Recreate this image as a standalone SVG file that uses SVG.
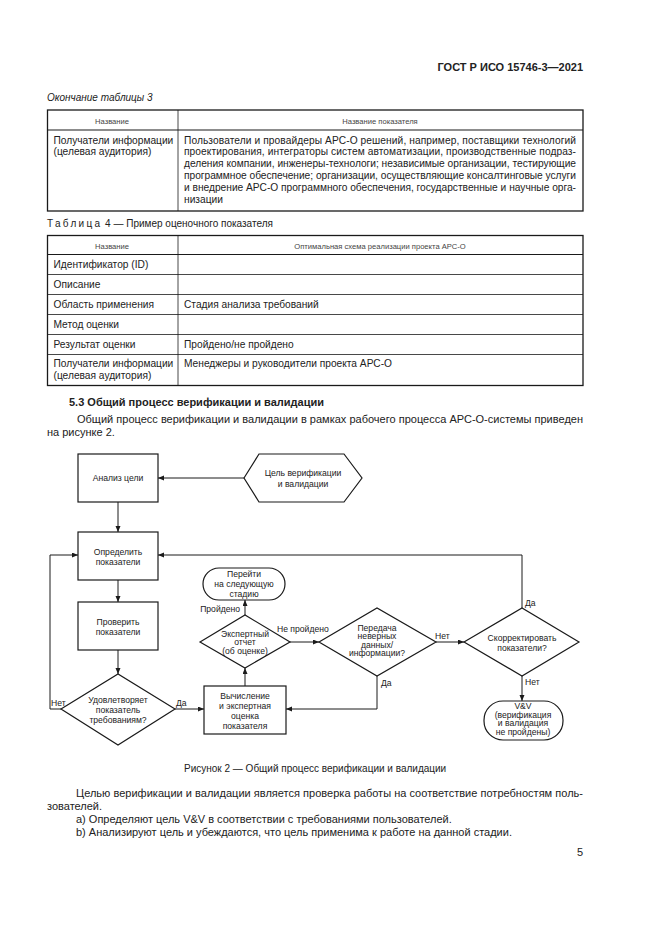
<svg xmlns="http://www.w3.org/2000/svg" width="661" height="935" viewBox="0 0 661 935">
<style>
text{font-family:"Liberation Sans",Arial,sans-serif;fill:#222}
.body{font-size:11px}
.tb{font-size:10.2px}
.th{font-size:7.6px;fill:#444}
.fc{font-size:8.6px;text-anchor:middle}
.lbl{font-size:8.6px}
.shape{fill:#fff;stroke:#1a1a1a;stroke-width:1.2}
.conn{fill:none;stroke:#1a1a1a;stroke-width:1}
.outer{fill:none;stroke:#1a1a1a;stroke-width:1.3}
.inner{stroke:#1a1a1a;stroke-width:0.8}
</style>
<defs>
<marker id="arr" markerUnits="userSpaceOnUse" markerWidth="7" markerHeight="6" refX="6" refY="2.5" orient="auto">
<path d="M0,0 L6,2.5 L0,5 z" fill="#1a1a1a"/>
</marker>
</defs>
<rect width="661" height="935" fill="#fff"/>

<!-- Header -->
<text x="583" y="71" text-anchor="end" style="font-size:11px;font-weight:bold">ГОСТ Р ИСО 15746-3—2021</text>
<text x="47" y="101" style="font-size:10px;font-style:italic">Окончание таблицы 3</text>

<!-- Table 3 -->
<g id="table3">
<rect class="outer" x="47.5" y="110" width="535.5" height="101"/>
<line class="inner" x1="47.5" y1="130" x2="583" y2="130" style="stroke-width:1.2"/>
<line class="inner" x1="178" y1="110" x2="178" y2="211"/>
<text class="th" x="112" y="123.5" text-anchor="middle">Название</text>
<text class="th" x="380" y="123.5" text-anchor="middle">Название показателя</text>
<text class="tb" x="53.5" y="143.5">Получатели информации</text>
<text class="tb" x="53.5" y="155.3">(целевая аудитория)</text>
<text class="tb" x="184" y="143.5" textLength="392" lengthAdjust="spacing">Пользователи и провайдеры АРС-О решений, например, поставщики технологий</text>
<text class="tb" x="184" y="155.3" textLength="392" lengthAdjust="spacing">проектирования, интеграторы систем автоматизации, производственные подраз-</text>
<text class="tb" x="184" y="167.1" textLength="392" lengthAdjust="spacing">деления компании, инженеры-технологи; независимые организации, тестирующие</text>
<text class="tb" x="184" y="178.9" textLength="392" lengthAdjust="spacing">программное обеспечение; организации, осуществляющие консалтинговые услуги</text>
<text class="tb" x="184" y="190.7" textLength="392" lengthAdjust="spacing">и внедрение АРС-О программного обеспечения, государственные и научные орга-</text>
<text class="tb" x="184" y="202.5">низации</text>
</g>

<!-- Table 4 -->
<text x="47" y="227" style="font-size:10px"><tspan letter-spacing="2.3">Таблица</tspan> 4 — Пример оценочного показателя</text>
<g id="table4">
<rect class="outer" x="47.5" y="235.5" width="535.5" height="150"/>
<line class="inner" x1="47.5" y1="254.5" x2="583" y2="254.5" style="stroke-width:1.2"/>
<line class="inner" x1="47.5" y1="274.5" x2="583" y2="274.5"/>
<line class="inner" x1="47.5" y1="294.5" x2="583" y2="294.5"/>
<line class="inner" x1="47.5" y1="314.5" x2="583" y2="314.5"/>
<line class="inner" x1="47.5" y1="334.5" x2="583" y2="334.5"/>
<line class="inner" x1="47.5" y1="354.5" x2="583" y2="354.5"/>
<line class="inner" x1="178" y1="235.5" x2="178" y2="385.5"/>
<text class="th" x="112" y="248.5" text-anchor="middle">Название</text>
<text class="th" x="380" y="248.5" text-anchor="middle">Оптимальная схема реализации проекта АРС-О</text>
<text class="tb" x="53.5" y="268">Идентификатор (ID)</text>
<text class="tb" x="53.5" y="288">Описание</text>
<text class="tb" x="53.5" y="308">Область применения</text>
<text class="tb" x="53.5" y="328">Метод оценки</text>
<text class="tb" x="53.5" y="348">Результат оценки</text>
<text class="tb" x="53.5" y="367">Получатели информации</text>
<text class="tb" x="53.5" y="378.8">(целевая аудитория)</text>
<text class="tb" x="184" y="308">Стадия анализа требований</text>
<text class="tb" x="184" y="348">Пройдено/не пройдено</text>
<text class="tb" x="184" y="367">Менеджеры и руководители проекта АРС-О</text>
</g>

<!-- Section 5.3 -->
<text x="69" y="405.5" style="font-size:11px;font-weight:bold">5.3 Общий процесс верификации и валидации</text>
<text class="body" x="77" y="423" textLength="506" lengthAdjust="spacing">Общий процесс верификации и валидации в рамках рабочего процесса АРС-О-системы приведен</text>
<text class="body" x="47" y="436">на рисунке 2.</text>

<!-- Flowchart connectors -->
<g id="connectors">
<line class="conn" x1="244" y1="478" x2="158" y2="478" marker-end="url(#arr)"/>
<line class="conn" x1="118" y1="502" x2="118" y2="532" marker-end="url(#arr)"/>
<line class="conn" x1="118" y1="580" x2="118" y2="602" marker-end="url(#arr)"/>
<line class="conn" x1="118" y1="650" x2="118" y2="674" marker-end="url(#arr)"/>
<polyline class="conn" points="61,709 50,709 50,555 78,555" marker-end="url(#arr)"/>
<line class="conn" x1="175" y1="709" x2="204" y2="709" marker-end="url(#arr)"/>
<line class="conn" x1="245" y1="686" x2="245" y2="668" marker-end="url(#arr)"/>
<line class="conn" x1="245" y1="615" x2="245" y2="600" marker-end="url(#arr)"/>
<line class="conn" x1="290" y1="642" x2="319" y2="642" marker-end="url(#arr)"/>
<line class="conn" x1="436" y1="642" x2="464" y2="642" marker-end="url(#arr)"/>
<polyline class="conn" points="377,676 377,709 286,709" marker-end="url(#arr)"/>
<polyline class="conn" points="522,608 522,555 158,555" marker-end="url(#arr)"/>
<line class="conn" x1="522" y1="676" x2="522" y2="701" marker-end="url(#arr)"/>
<text class="lbl" x="51" y="705.5">Нет</text>
<text class="lbl" x="176" y="705.5">Да</text>
<text class="lbl" x="240" y="611.5" text-anchor="end">Пройдено</text>
<text class="lbl" x="277" y="631.5">Не пройдено</text>
<text class="lbl" x="435" y="638.5">Нет</text>
<text class="lbl" x="381" y="685.5">Да</text>
<text class="lbl" x="525" y="605.5">Да</text>
<text class="lbl" x="525" y="685">Нет</text>
</g>

<!-- Nodes -->
<g id="analiz">
<rect class="shape" x="78" y="454" width="80" height="48"/>
<text class="fc" x="118" y="481">Анализ цели</text>
</g>
<g id="goal">
<polygon class="shape" points="244,478 259,454 344,454 362,478 344,502 259,502"/>
<text class="fc" x="303" y="476">Цель верификации</text>
<text class="fc" x="303" y="486.5">и валидации</text>
</g>
<g id="define">
<rect class="shape" x="78" y="532" width="80" height="48"/>
<text class="fc" x="118" y="555">Определить</text>
<text class="fc" x="118" y="565">показатели</text>
</g>
<g id="check">
<rect class="shape" x="78" y="602" width="80" height="48"/>
<text class="fc" x="118" y="625">Проверить</text>
<text class="fc" x="118" y="635">показатели</text>
</g>
<g id="satisfy">
<polygon class="shape" points="61,709 118,674 175,709 118,745"/>
<text class="fc" x="118" y="702.5">Удовлетворяет</text>
<text class="fc" x="118" y="712.5">показатель</text>
<text class="fc" x="118" y="722.5">требованиям?</text>
</g>
<g id="calc">
<rect class="shape" x="204" y="686" width="82" height="48"/>
<text class="fc" x="245" y="698.5">Вычисление</text>
<text class="fc" x="245" y="708.5">и экспертная</text>
<text class="fc" x="245" y="718.5">оценка</text>
<text class="fc" x="245" y="728.5">показателя</text>
</g>
<g id="expert">
<polygon class="shape" points="200,642 245,615 290,642 245,668"/>
<text class="fc" x="245" y="636.5">Экспертный</text>
<text class="fc" x="245" y="645">отчет</text>
<text class="fc" x="245" y="654">(об оценке)</text>
</g>
<g id="next">
<rect class="shape" x="203" y="568" width="82" height="32" rx="16"/>
<text class="fc" x="244" y="576.5">Перейти</text>
<text class="fc" x="244" y="586.5">на следующую</text>
<text class="fc" x="244" y="596.5">стадию</text>
</g>
<g id="transfer">
<polygon class="shape" points="319,642 377,608 436,642 377,676"/>
<text class="fc" x="377" y="630.5">Передача</text>
<text class="fc" x="377" y="639">неверных</text>
<text class="fc" x="377" y="647.5">данных/</text>
<text class="fc" x="377" y="656">информации?</text>
</g>
<g id="correct">
<polygon class="shape" points="464,642 522,608 579,642 522,676"/>
<text class="fc" x="522" y="641">Скорректировать</text>
<text class="fc" x="522" y="651">показатели?</text>
</g>
<g id="fail">
<rect class="shape" x="484" y="701" width="79" height="39" rx="19"/>
<text class="fc" x="523" y="709">V&amp;V</text>
<text class="fc" x="523" y="717.5">(верификация</text>
<text class="fc" x="523" y="726">и валидация</text>
<text class="fc" x="523" y="735">не пройдены)</text>
</g>

<!-- Caption and text -->
<text x="184" y="771.5" style="font-size:10px">Рисунок 2 — Общий процесс верификации и валидации</text>
<text class="body" x="76" y="797" textLength="507" lengthAdjust="spacing">Целью верификации и валидации является проверка работы на соответствие потребностям поль-</text>
<text class="body" x="47" y="810">зователей.</text>
<text class="body" x="76" y="822.5">a) Определяют цель V&amp;V в соответствии с требованиями пользователей.</text>
<text class="body" x="76" y="835.5">b) Анализируют цель и убеждаются, что цель применима к работе на данной стадии.</text>
<text class="body" x="583" y="856" text-anchor="end">5</text>
</svg>
